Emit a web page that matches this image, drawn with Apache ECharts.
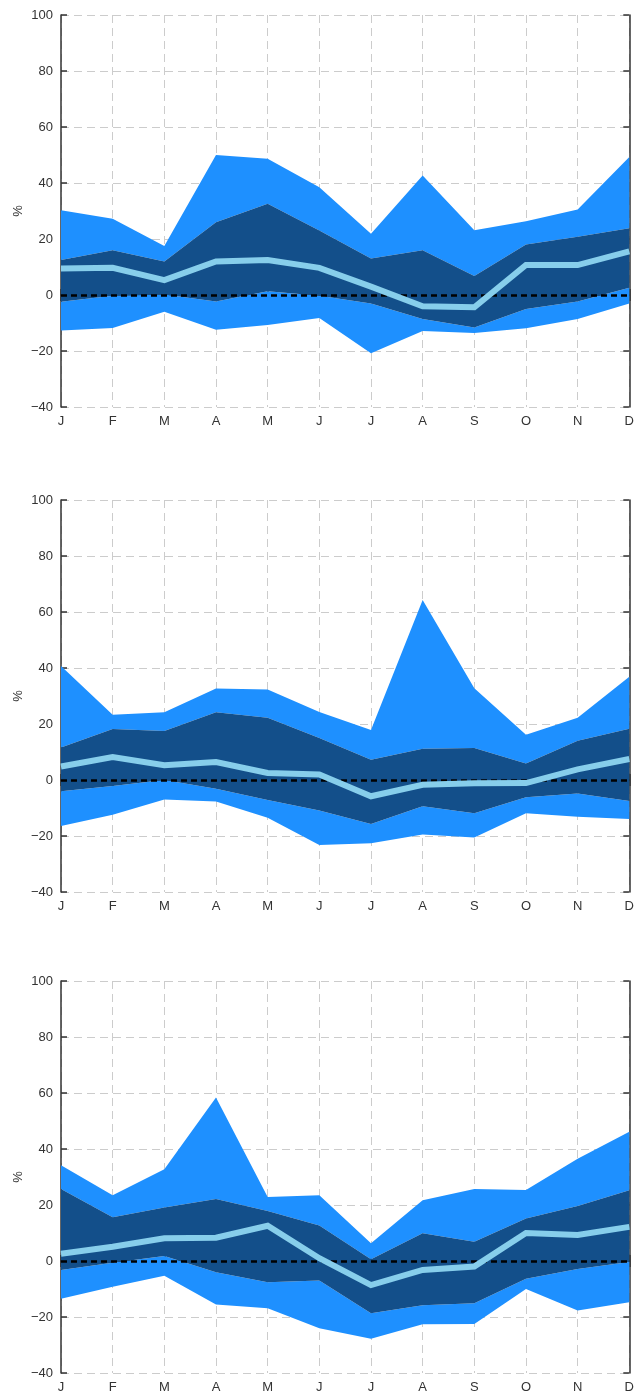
<!DOCTYPE html>
<html><head><meta charset="utf-8">
<script src="https://cdn.jsdelivr.net/npm/echarts@6/dist/echarts.min.js"></script>
<style>html,body{margin:0;padding:0;background:#fff}#c{width:637px;height:1396px}</style>
</head><body><div id="c"></div>
<script>
var months = ['J','F','M','A','M','J','J','A','S','O','N','D'];
var yTicks = [-40,-20,0,20,40,60,80,100];

// Panel 1
var p1OuterHigh = [30.3,27.2,17.5,50,48.7,38.5,21.9,42.7,23.1,26.3,30.5,49.3];
var p1InnerHigh = [12.5,16,12,26,32.6,23,13,16,6.8,18,20.8,23.8];
var p1Median    = [9.5,9.7,5.3,12,12.5,9.7,3,-4,-4.4,10.7,10.7,15.6];
var p1InnerLow  = [-2.4,-0.3,0.2,-2.3,1.3,-0.3,-3,-8.6,-11.6,-5,-2.3,2.6];
var p1OuterLow  = [-12.7,-11.8,-6,-12.4,-10.7,-8.2,-20.8,-12.9,-13.6,-11.9,-8.6,-3];

// Panel 2
var p2OuterHigh = [40.7,23.3,24.2,32.7,32.3,24.3,17.9,64.3,32.8,16.2,22.2,36.9];
var p2InnerHigh = [11.6,18.2,17.5,24.2,22.2,15,7.2,11.2,11.4,5.9,14,18.3];
var p2Median    = [4.8,8.2,5.3,6.4,2.5,2,-5.8,-1.7,-1.2,-1.1,3.8,7.5];
var p2InnerLow  = [-4,-2.1,0,-3.1,-7.1,-10.9,-15.7,-9.4,-11.9,-6.2,-4.8,-7.5];
var p2OuterLow  = [-16.4,-12.4,-7,-7.7,-13.5,-23.2,-22.6,-19.5,-20.5,-11.9,-13.1,-13.9];

// Panel 3
var p3OuterHigh = [34.2,23.5,32.8,58.4,22.9,23.5,6.3,21.7,25.7,25.4,36.5,46.2];
var p3InnerHigh = [25.7,15.6,19.1,22.1,17.9,12.7,0.6,9.9,6.9,15.2,19.6,25.3];
var p3Median    = [2.6,5.1,8.1,8.3,12.6,1,-8.6,-3.2,-2,10,9.3,12.2];
var p3InnerLow  = [-3.2,-0.6,1.8,-4,-7.6,-7,-18.7,-15.8,-15.1,-6.3,-2.9,-0.4];
var p3OuterLow  = [-13.5,-9.2,-5.3,-15.5,-16.9,-24,-27.8,-22.6,-22.5,-10,-17.7,-14.7];

var panels = [
  {oh:p1OuterHigh, ih:p1InnerHigh, md:p1Median, il:p1InnerLow, ol:p1OuterLow},
  {oh:p2OuterHigh, ih:p2InnerHigh, md:p2Median, il:p2InnerLow, ol:p2OuterLow},
  {oh:p3OuterHigh, ih:p3InnerHigh, md:p3Median, il:p3InnerLow, ol:p3OuterLow}
];
var tops = [15, 500, 981];
var H = 392;

var LIGHT = '#1e90ff', DARK = '#134f8a', MED = '#87ceeb', AXC = '#333333';
var FONT = 'Liberation Sans';

function diff(a,b){ return a.map(function(v,i){ return +(v-b[i]).toFixed(3); }); }

var grids=[], xAxes=[], yAxes=[], series=[];
panels.forEach(function(p, k){
  grids.push({left:61, right:5, top:tops[k], height:H});
  var axLine = {show:true, lineStyle:{color:AXC, width:1.5}};
  xAxes.push({type:'category', gridIndex:k, data:months, boundaryGap:false, position:'bottom',
    axisLine:axLine, axisTick:{show:true, inside:true, length:6, lineStyle:{color:AXC,width:1.5}},
    axisLabel:{color:AXC, fontSize:13, fontFamily:FONT, margin:8},
    splitLine:{show:true, lineStyle:{color:'#cccccc', width:1, type:[8,5]}}});
  xAxes.push({type:'category', gridIndex:k, data:months, boundaryGap:false, position:'top',
    axisLine:axLine, axisTick:{show:true, inside:true, length:6, lineStyle:{color:AXC,width:1.5}},
    axisLabel:{show:false}, splitLine:{show:false}});
  yAxes.push({type:'value', gridIndex:k, min:yTicks[0], max:yTicks[yTicks.length-1], interval:20, position:'left',
    name:'%', nameLocation:'middle', nameGap:36, nameRotate:90, nameMoveOverlap:false,
    nameTextStyle:{color:AXC, fontSize:13, fontFamily:FONT},
    axisLine:axLine, axisTick:{show:true, inside:true, length:6, lineStyle:{color:AXC,width:1.5}},
    axisLabel:{color:AXC, fontSize:13, fontFamily:FONT, margin:8,
      formatter:function(v){ return String(v).replace('-', '\u2212'); }},
    splitLine:{show:true, lineStyle:{color:'#cccccc', width:1, type:[8,5]}}});
  yAxes.push({type:'value', gridIndex:k, min:yTicks[0], max:yTicks[yTicks.length-1], interval:20, position:'right',
    axisLine:axLine, axisTick:{show:true, inside:true, length:6, lineStyle:{color:AXC,width:1.5}},
    axisLabel:{show:false}, splitLine:{show:false}});
  var xi = 2*k, yi = 2*k, st = 'band'+k;
  function band(data, color, z){
    return {type:'line', xAxisIndex:xi, yAxisIndex:yi, stack:st, stackStrategy:'all',
      data:data, symbol:'none', silent:true, z:z,
      lineStyle:{width:0, opacity:0}, areaStyle:color?{color:color, opacity:1}:undefined};
  }
  series.push(band(p.ol, null, 1));
  series.push(band(diff(p.il,p.ol), LIGHT, 2));
  series.push(band(diff(p.ih,p.il), DARK, 3));
  series.push(band(diff(p.oh,p.ih), LIGHT, 2));
  series.push({type:'line', xAxisIndex:xi, yAxisIndex:yi, data:p.md, symbol:'none', z:5,
    lineStyle:{color:MED, width:6, join:'miter'}, silent:true});
  series.push({type:'line', xAxisIndex:xi, yAxisIndex:yi, data:[], z:6, silent:true,
    markLine:{silent:true, symbol:'none', label:{show:false}, animation:false,
      lineStyle:{color:'#000', width:2.5, type:[6,4]}, data:[{yAxis:0}]}});
});

var chart = echarts.init(document.getElementById('c'), null, {renderer:'canvas'});
chart.setOption({animation:false, backgroundColor:'#fff', grid:grids, xAxis:xAxes, yAxis:yAxes, series:series});
</script></body></html>
